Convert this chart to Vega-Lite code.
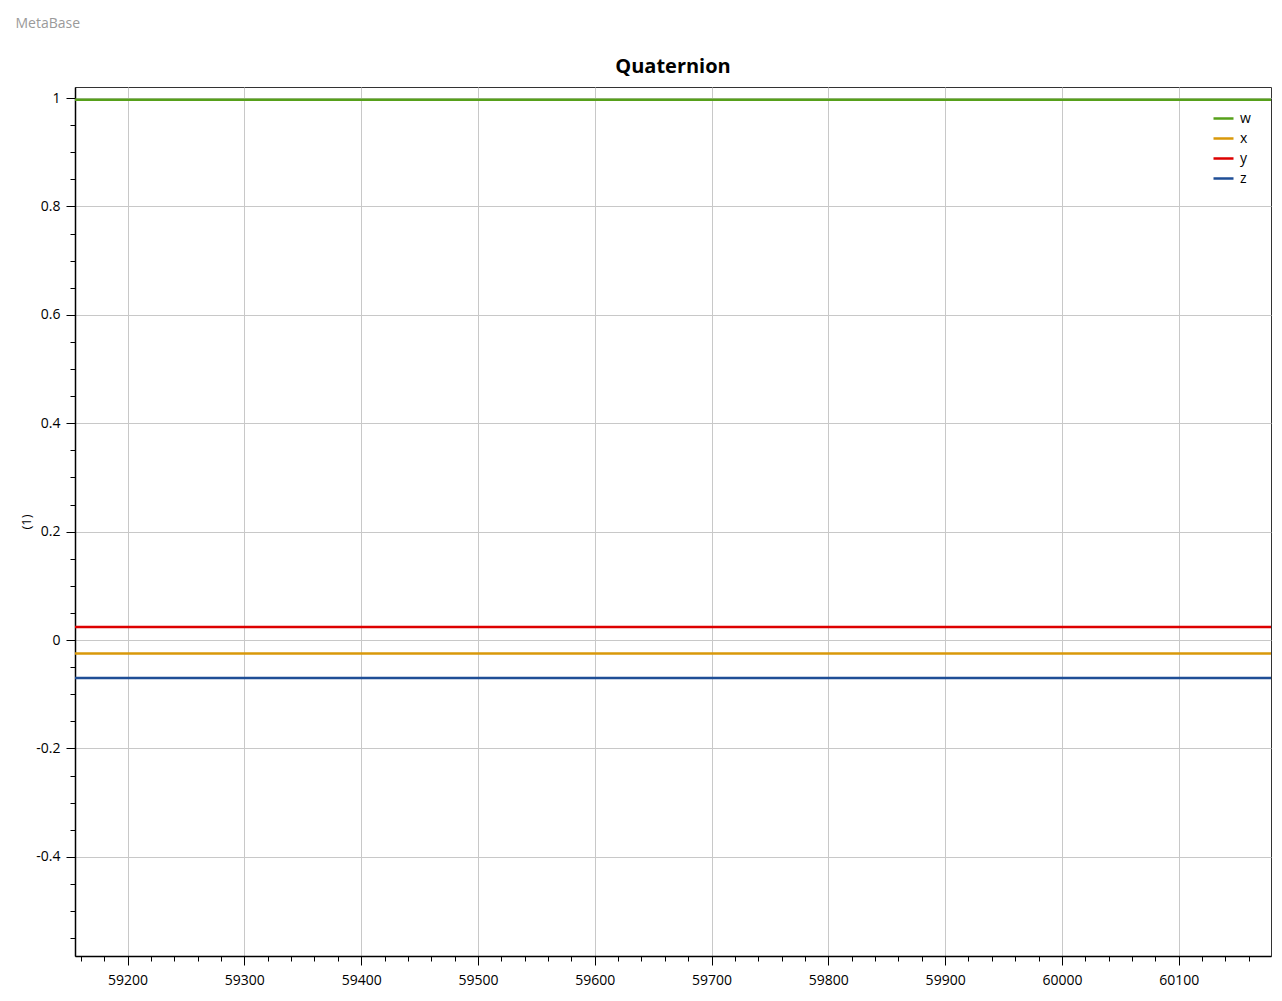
{
  "$schema": "https://vega.github.io/schema/vega-lite/v6.json",
  "background": "white",
  "padding": {"left": 15, "top": 16, "right": 0, "bottom": 0},
  "title": {"text": "MetaBase", "anchor": "start", "fontSize": 14, "font": "Open Sans", "fontWeight": "normal", "color": "#9a9a9a", "offset": 26, "dx": -4},
  "config": {
    "font": "Open Sans",
    "view": {"stroke": "#333333", "strokeWidth": 1},
    "axis": {"labelFont": "Open Sans", "labelFontSize": 14, "labelColor": "#000000", "titleFont": "Open Sans", "titleFontSize": 13, "titleFontWeight": "normal", "titleColor": "#000000", "domainColor": "#000000", "domainWidth": 1.5, "tickColor": "#000000", "tickWidth": 1, "gridColor": "#c8c8c8", "gridWidth": 1},
    "legend": {"labelFont": "Open Sans", "labelFontSize": 14, "labelColor": "#000000"}
  },
  "datasets": {
    "q": [
      {"t": 59155, "v": 0.997, "c": "w"},
      {"t": 60179, "v": 0.997, "c": "w"},
      {"t": 59155, "v": -0.025, "c": "x"},
      {"t": 60179, "v": -0.025, "c": "x"},
      {"t": 59155, "v": 0.024, "c": "y"},
      {"t": 60179, "v": 0.024, "c": "y"},
      {"t": 59155, "v": -0.070, "c": "z"},
      {"t": 60179, "v": -0.070, "c": "z"}
    ]
  },
  "vconcat": [
    {
      "width": 1196,
      "height": 869,
      "title": {"text": "Quaternion", "fontSize": 20, "fontWeight": "bold", "font": "Open Sans", "color": "#000000", "offset": 10, "anchor": "middle"},
      "data": {"name": "q"},
      "mark": {"type": "line", "strokeWidth": 2.5, "clip": true},
      "encoding": {
        "x": {
          "field": "t", "type": "quantitative",
          "scale": {"domain": [59155, 60179], "nice": false, "zero": false},
          "axis": {
            "title": null,
            "values": [59160,59180,59200,59220,59240,59260,59280,59300,59320,59340,59360,59380,59400,59420,59440,59460,59480,59500,59520,59540,59560,59580,59600,59620,59640,59660,59680,59700,59720,59740,59760,59780,59800,59820,59840,59860,59880,59900,59920,59940,59960,59980,60000,60020,60040,60060,60080,60100,60120,60140,60160],
            "labelExpr": "datum.value % 100 === 0 ? '' + datum.value : ''",
            "labelFlush": false,
            "labelOverlap": false,
            "labelPadding": 8,
            "tickSize": {"condition": {"test": "datum.value % 100 === 0", "value": 9}, "value": 5},
            "gridOpacity": {"condition": {"test": "datum.value % 100 === 0", "value": 1}, "value": 0}
          }
        },
        "y": {
          "field": "v", "type": "quantitative",
          "scale": {"domain": [-0.583, 1.0203], "nice": false, "zero": false},
          "axis": {
            "title": "(1)",
            "titleX": -42,
            "values": [-0.55,-0.5,-0.45,-0.4,-0.35,-0.3,-0.25,-0.2,-0.15,-0.1,-0.05,0,0.05,0.1,0.15,0.2,0.25,0.3,0.35,0.4,0.45,0.5,0.55,0.6,0.65,0.7,0.75,0.8,0.85,0.9,0.95,1],
            "labelExpr": "abs(round(datum.value*5) - datum.value*5) < 1e-6 ? '' + (round(datum.value*10)/10) : ''",
            "labelOverlap": false,
            "labelFlush": false,
            "labelPadding": 6,
            "tickSize": {"condition": {"test": "abs(round(datum.value*5) - datum.value*5) < 1e-6", "value": 9}, "value": 5},
            "gridOpacity": {"condition": {"test": "abs(round(datum.value*5) - datum.value*5) < 1e-6", "value": 1}, "value": 0}
          }
        },
        "color": {
          "field": "c", "type": "nominal",
          "scale": {"domain": ["w", "x", "y", "z"], "range": ["#56a01a", "#d9980a", "#dd0000", "#1f4e96"]},
          "legend": {"title": null, "orient": "top-right", "offset": 20, "symbolType": "stroke", "symbolSize": 400, "symbolStrokeWidth": 2.5, "rowPadding": 1, "labelOffset": 5, "padding": 0}
        }
      }
    }
  ]
}
